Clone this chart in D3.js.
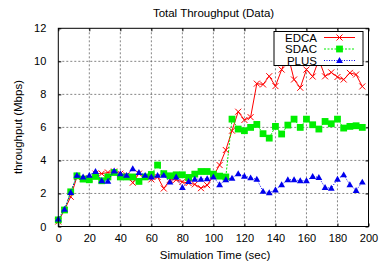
<!DOCTYPE html>
<html><head><meta charset="utf-8">
<script src="https://cdn.jsdelivr.net/npm/d3@7"></script>
<style>html,body{margin:0;padding:0;background:#fff;} svg{display:block;font-family:"Liberation Sans",Arial,sans-serif;}</style>
</head><body>
<svg id="c" width="386" height="262"></svg>
<script>
const times = [0,4,8,12,16,20,24,28,32,36,40,44,48,52,56,60,64,68,72,76,80,84,88,92,96,100,104,108,112,116,120,124,128,132,136,140,144,148,152,156,160,164,168,172,176,180,184,188,192,196];
const edca = [0.3,1.0,1.8,3.0,2.9,2.9,3.2,3.2,3.27,3.33,3.2,3.1,2.65,3.2,3.0,2.85,3.0,2.3,2.83,2.83,2.7,2.63,2.55,2.32,2.5,3.07,3.72,4.63,5.8,6.95,6.45,6.62,8.65,8.6,9.1,8.5,9.5,10.4,8.9,8.4,9.5,9.08,10.1,9.09,9.33,9.05,8.9,9.3,9.2,8.48];
const sdac = [0.4,1.0,2.1,3.07,2.87,2.83,3.03,2.77,3.0,3.27,3.0,3.0,3.0,2.73,3.0,3.15,3.72,3.2,3.07,3.13,3.13,2.97,3.17,3.33,3.33,3.17,3.05,3.0,6.5,5.9,5.8,6.0,6.18,5.62,5.35,6.06,5.6,6.14,6.5,6.0,6.5,6.16,5.9,6.36,6.22,6.5,5.96,6.06,6.1,6.0];
const plus = [0.45,1.05,2.06,3.1,3.0,3.1,3.33,2.77,2.75,3.37,3.2,3.1,3.5,3.27,3.1,3.0,3.1,3.1,2.69,3.0,2.36,2.73,2.87,2.87,2.9,3.0,2.53,2.83,2.93,3.2,3.05,2.95,2.86,2.13,2.05,2.22,2.53,2.83,2.83,2.77,2.77,3.03,2.97,2.36,2.32,2.87,3.13,2.53,2.18,2.69];
const xTicks = [0,20,40,60,80,100,120,140,160,180,200];
const yTicks = [0,2,4,6,8,10,12];
const seriesNames = ["EDCA","SDAC","PLUS"];
const title = "Total Throughput (Data)";
const xLabel = "Simulation Time (sec)";
const yLabel = "throughput (Mbps)";

const svg = d3.select("#c");
const L = 58.3, R = 368.5, T = 28.3, B = 226.5;
const x = d3.scaleLinear().domain([0,200]).range([L,R]);
const y = d3.scaleLinear().domain([0,12]).range([B,T]);

// grid
const g = svg.append("g");
g.selectAll("line.gx").data(xTicks.slice(1,-1)).enter().append("line")
 .attr("x1",d=>x(d)).attr("x2",d=>x(d)).attr("y1",T).attr("y2",B)
 .attr("stroke","#666").attr("stroke-width",0.8).attr("stroke-dasharray","2,2");
g.selectAll("line.gy").data(yTicks.slice(1,-1)).enter().append("line")
 .attr("y1",d=>y(d)).attr("y2",d=>y(d)).attr("x1",L).attr("x2",R)
 .attr("stroke","#666").attr("stroke-width",0.8).attr("stroke-dasharray","2,2");

// axes
const fs = "11px";
const xb = svg.append("g").attr("transform",`translate(0,${B})`)
 .call(d3.axisBottom(x).tickValues(xTicks).tickSizeInner(-3).tickSizeOuter(0).tickPadding(8));
const xt = svg.append("g").attr("transform",`translate(0,${T})`)
 .call(d3.axisTop(x).tickValues(xTicks).tickSizeInner(-3).tickSizeOuter(0).tickFormat(""));
const yl = svg.append("g").attr("transform",`translate(${L},0)`)
 .call(d3.axisLeft(y).tickValues(yTicks).tickSizeInner(-3).tickSizeOuter(0).tickPadding(12));
const yr = svg.append("g").attr("transform",`translate(${R},0)`)
 .call(d3.axisRight(y).tickValues(yTicks).tickSizeInner(-3).tickSizeOuter(0).tickFormat(""));
[xb,xt,yl,yr].forEach(a=>{
  a.selectAll("path").remove();
  a.selectAll("line").attr("stroke","#000");
  a.selectAll("text").attr("font-size",fs).attr("font-family","Liberation Sans, Arial, sans-serif").attr("fill","#000");
});

// lines
const line = (arr)=>d3.line().x((d,i)=>x(times[i])).y(d=>y(d))(arr);
const drawX = (sel,cx,cy,s)=>{
  sel.append("path").attr("d",`M${cx-s},${cy-s}L${cx+s},${cy+s}M${cx-s},${cy+s}L${cx+s},${cy-s}`)
   .attr("stroke","#ff0000").attr("stroke-width",1).attr("fill","none");
};
const drawSq = (sel,cx,cy,s)=>{
  sel.append("rect").attr("x",cx-s).attr("y",cy-s).attr("width",2*s).attr("height",2*s).attr("fill","#00ee00");
};
const drawTri = (sel,cx,cy,s)=>{
  sel.append("path").attr("d",`M${cx},${cy-s}L${cx+s},${cy+s*0.75}L${cx-s},${cy+s*0.75}Z`).attr("fill","#0000ee");
};

const gE = svg.append("g");
gE.append("path").attr("d",line(edca)).attr("stroke","#ff0000").attr("stroke-width",1).attr("fill","none");
edca.forEach((v,i)=>drawX(gE,x(times[i]),y(v),3));

const gS = svg.append("g");
gS.append("path").attr("d",line(sdac)).attr("stroke","#00ee00").attr("stroke-width",1).attr("stroke-dasharray","2,1.5").attr("fill","none");
sdac.forEach((v,i)=>drawSq(gS,x(times[i]),y(v),3.4));

const gP = svg.append("g");
gP.append("path").attr("d",line(plus)).attr("stroke","#0000ee").attr("stroke-width",1).attr("stroke-dasharray","1,1.5").attr("fill","none");
plus.forEach((v,i)=>drawTri(gP,x(times[i]),y(v),3.4));

// frame
svg.append("rect").attr("x",L).attr("y",T).attr("width",R-L).attr("height",B-T)
 .attr("fill","none").attr("stroke","#000").attr("stroke-width",1);

// legend
const lg = svg.append("g");
lg.append("rect").attr("x",274).attr("y",31.5).attr("width",89).attr("height",34)
 .attr("fill","#fff").attr("stroke","#000").attr("stroke-width",1);
const rows = [37.5,49,60.5];
seriesNames.forEach((n,i)=>{
  lg.append("text").attr("x",317).attr("y",rows[i]).attr("dy","0.35em").attr("text-anchor","end")
   .attr("font-size","11.5px").text(n);
  const ln = lg.append("line").attr("x1",324).attr("x2",355).attr("y1",rows[i]).attr("y2",rows[i]).attr("stroke-width",1);
  if(i===0){ ln.attr("stroke","#ff0000"); drawX(lg,339.5,rows[i],3); }
  if(i===1){ ln.attr("stroke","#00ee00").attr("stroke-dasharray","2,1.5"); drawSq(lg,339.5,rows[i],3.4); }
  if(i===2){ ln.attr("stroke","#0000ee").attr("stroke-dasharray","1,1.5"); drawTri(lg,339.5,rows[i],3.4); }
});

// titles
svg.append("text").attr("x",213.5).attr("y",12.7).attr("dy","0.35em").attr("text-anchor","middle").attr("font-size","11.5px").text(title);
svg.append("text").attr("x",215).attr("y",255).attr("dy","0.35em").attr("text-anchor","middle").attr("font-size","11.5px").text(xLabel);
svg.append("text").attr("transform","translate(18,127) rotate(-90)").attr("dy","0.35em").attr("text-anchor","middle").attr("font-size","11.5px").text(yLabel);
</script>
</body></html>
